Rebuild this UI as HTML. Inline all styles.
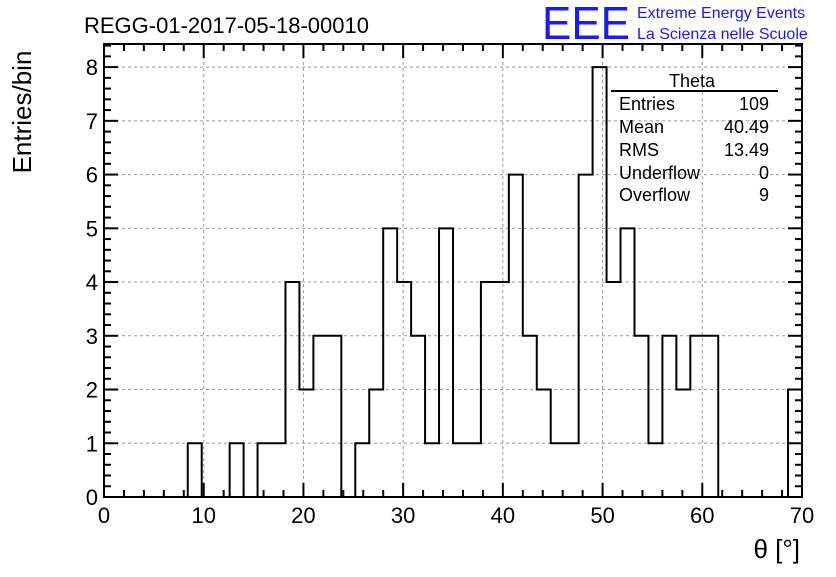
<!DOCTYPE html>
<html><head><meta charset="utf-8"><style>
body{margin:0;background:#fff;width:836px;height:572px;overflow:hidden}
text{font-family:"Liberation Sans",sans-serif}
</style></head><body>
<svg width="836" height="572">
<text x="84" y="33" font-size="22">REGG-01-2017-05-18-00010</text>
<text x="542" y="39" font-size="46" fill="#1a1aff" textLength="88" lengthAdjust="spacingAndGlyphs">EEE</text>
<text x="637" y="18" font-size="16" fill="#1a1aff">Extreme Energy Events</text>
<text x="637" y="39" font-size="16" fill="#1a1aff">La Scienza nelle Scuole</text>
<g id="grid"></g><g id="ticks"></g><path id="hist" fill="none" stroke="#000" stroke-width="2"></path>
<rect x="104" y="44" width="698" height="453" fill="none" stroke="#000" stroke-width="2"/>
<g font-size="18">
<text x="692" y="87" text-anchor="middle">Theta</text>
<line x1="611" y1="91" x2="778" y2="91" stroke="#000" stroke-width="2"/>
<text x="619" y="110">Entries</text><text x="769" y="110" text-anchor="end">109</text>
<text x="619" y="133">Mean</text><text x="769" y="133" text-anchor="end">40.49</text>
<text x="619" y="156">RMS</text><text x="769" y="156" text-anchor="end">13.49</text>
<text x="619" y="179">Underflow</text><text x="769" y="179" text-anchor="end">0</text>
<text x="619" y="201">Overflow</text><text x="769" y="201" text-anchor="end">9</text>
</g>
<text transform="translate(31,112) rotate(-90)" text-anchor="middle" font-size="26">Entries/bin</text>
<text x="800" y="558" text-anchor="end" font-size="26">θ [°]</text>
</svg>
<script>
const counts=[0,0,0,0,0,0,1,0,0,1,0,1,1,4,2,3,3,0,1,2,5,4,3,1,5,1,1,4,4,6,3,2,1,1,6,8,4,5,3,1,3,2,3,3,0,0,0,0,0,2];
const xTicks=[0,10,20,30,40,50,60,70];
const yTicks=[0,1,2,3,4,5,6,7,8];
const xMin=0,xMax=70,binW=1.4,yMax=8.43;
const L=104,R=802,T=44,B=497;
const X=v=>L+(v-xMin)/(xMax-xMin)*(R-L);
const Y=v=>B-v/yMax*(B-T);
const NS="http://www.w3.org/2000/svg";
const grid=document.getElementById('grid'),tk=document.getElementById('ticks'),svg=document.querySelector('svg');
function ln(p,x1,y1,x2,y2,dash,w){const l=document.createElementNS(NS,'line');l.setAttribute('x1',x1);l.setAttribute('y1',y1);l.setAttribute('x2',x2);l.setAttribute('y2',y2);l.setAttribute('stroke',dash?'#999':'#000');l.setAttribute('stroke-width',w||1);if(dash)l.setAttribute('stroke-dasharray','3,3');p.appendChild(l);return l;}
xTicks.forEach(v=>{const x=X(v);
if(v>xMin&&v<xMax){const g=ln(grid,x,T,x,B,true);

}
ln(tk,x,B,x,B-14,false,2);ln(tk,x,T,x,T+14,false,2);
const t=document.createElementNS(NS,'text');t.setAttribute('x',x);t.setAttribute('y',523);t.setAttribute('text-anchor','middle');t.setAttribute('font-size','22');t.textContent=v;


svg.appendChild(t);});
for(let v=xMin;v<xMax;v+=2){if(v%10){const x=X(v);ln(tk,x,B,x,B-7,false,2);ln(tk,x,T,x,T+7,false,2);}}
yTicks.forEach(v=>{const y=Y(v);
if(v>0){const g=ln(grid,L,y,R,y,true);

}
ln(tk,L,y,L+14,y,false,2);ln(tk,R,y,R-14,y,false,2);
const t=document.createElementNS(NS,'text');t.setAttribute('x',L-6);t.setAttribute('y',y+8);t.setAttribute('text-anchor','end');t.setAttribute('font-size','22');t.textContent=v;


svg.appendChild(t);});
for(let v=0;v<yMax;v+=0.2){if(Math.abs(v-Math.round(v))>0.01){const y=Y(v);ln(tk,L,y,L+7,y,false,2);ln(tk,R,y,R-7,y,false,2);}}
let d='M'+X(0)+','+Y(0);
counts.forEach((c,i)=>{d+=' L'+X(i*binW)+','+Y(c)+' L'+X((i+1)*binW)+','+Y(c);});
d+=' L'+X(counts.length*binW)+','+Y(0);
document.getElementById('hist').setAttribute('d',d);
</script>
</body></html>
